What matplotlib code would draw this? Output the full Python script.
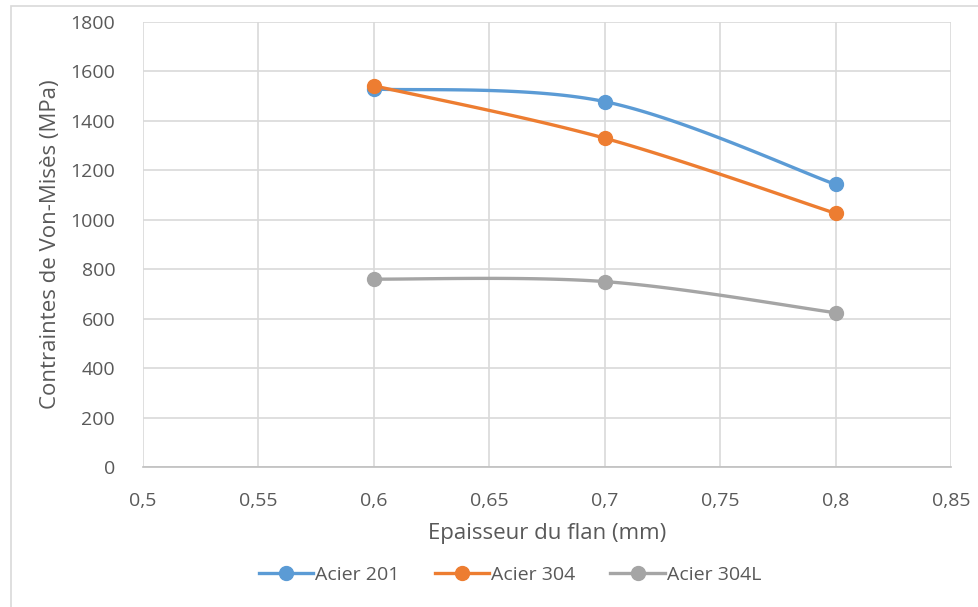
import numpy as np
import matplotlib
matplotlib.use("Agg")
import matplotlib.pyplot as plt
from matplotlib.patches import Rectangle

# Data
thickness = [0.6, 0.7, 0.8]
acier_201 = [1529, 1478, 1143]
acier_304 = [1542, 1330, 1026]
acier_304L = [760, 750, 624]
series_names = ["Acier 201", "Acier 304", "Acier 304L"]
colors = ["#5b9bd5", "#ed7d31", "#a5a5a5"]
x_ticks = [0.5, 0.55, 0.6, 0.65, 0.7, 0.75, 0.8, 0.85]
y_ticks = [0, 200, 400, 600, 800, 1000, 1200, 1400, 1600, 1800]

plt.rcParams["font.family"] = ["Open Sans", "DejaVu Sans"]
text_color = "#595959"


def smooth_curve(xs, ys, n=60):
    """Spreadsheet-style smoothed line: cubic Bezier segments with
    control points taken from neighbouring points (tension 1/6)."""
    pts = np.column_stack([xs, ys]).astype(float)
    ext = np.vstack([pts[0], pts, pts[-1]])
    out = []
    t = np.linspace(0, 1, n)[:, None]
    for i in range(len(pts) - 1):
        p0 = ext[i + 1]
        p3 = ext[i + 2]
        c1 = p0 + (ext[i + 2] - ext[i]) / 6.0
        c2 = p3 - (ext[i + 3] - ext[i + 1]) / 6.0
        seg = ((1 - t) ** 3) * p0 + 3 * ((1 - t) ** 2) * t * c1 \
            + 3 * (1 - t) * t ** 2 * c2 + t ** 3 * p3
        out.append(seg if i == 0 else seg[1:])
    arr = np.vstack(out)
    return arr[:, 0], arr[:, 1]


fig = plt.figure(figsize=(9.79, 6.07), dpi=100)
fig.patches.append(Rectangle((11 / 979, -0.02), 1.0, 1 - 6 / 607 + 0.02,
                             transform=fig.transFigure, fill=False,
                             edgecolor="#d9d9d9", linewidth=1.2, zorder=0))

ax = fig.add_axes([143 / 979, 1 - 467 / 607, (951 - 143) / 979, (467 - 22) / 607])

for name, vals, col in zip(series_names, [acier_201, acier_304, acier_304L], colors):
    sx, sy = smooth_curve(thickness, vals)
    ax.plot(sx, sy, color=col, linewidth=2.4, solid_capstyle="round", zorder=3)
    ax.plot(thickness, vals, linestyle="none", marker="o", markersize=10,
            color=col, zorder=4)
    ax.plot([], [], color=col, linewidth=2.4, marker="o", markersize=10, label=name)

ax.set_xlim(0.5, 0.85)
ax.set_ylim(0, 1800)
ax.set_xticks(x_ticks)
ax.set_yticks(y_ticks)
ax.set_xticklabels([f"{v:g}".replace(".", ",") for v in x_ticks])
ax.set_yticklabels([str(v) for v in y_ticks])
ax.grid(True, color="#d9d9d9", linewidth=1.2)
ax.set_axisbelow(True)
for side in ["top", "right", "left"]:
    ax.spines[side].set_visible(False)
ax.spines["bottom"].set_color("#bfbfbf")
ax.spines["bottom"].set_linewidth(1.2)
ax.tick_params(axis="both", length=0, labelsize=14, colors=text_color)
ax.tick_params(axis="x", pad=18)
ax.tick_params(axis="y", pad=20)

ax.set_xlabel("Epaisseur du flan (mm)", fontsize=16, color=text_color, labelpad=9)
ax.set_ylabel("Contraintes de Von-Misès (MPa)", fontsize=16, color=text_color, labelpad=7)

fig.legend(loc="center", bbox_to_anchor=(510 / 979, 1 - 575 / 607), ncol=3,
           frameon=False, fontsize=14, labelcolor=text_color,
           handlelength=2.8, columnspacing=1.8, handletextpad=0.1)

fig.savefig("out.png", dpi=100)
